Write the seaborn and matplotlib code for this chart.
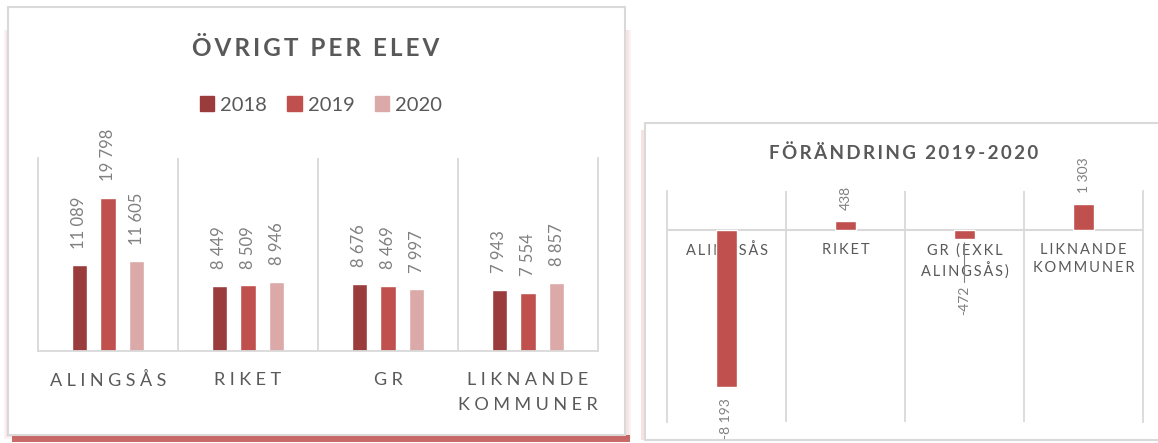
import pandas as pd
import numpy as np
import matplotlib
matplotlib.use("Agg")
import matplotlib.pyplot as plt
import matplotlib.patches as mpatches
import seaborn as sns

# data
omraden = ["ALINGSÅS", "RIKET", "GR", "LIKNANDE\nKOMMUNER"]
ar = ["2018", "2019", "2020"]
varden_2018 = [11089, 8449, 8676, 7943]
varden_2019 = [19798, 8509, 8469, 7554]
varden_2020 = [11605, 8946, 7997, 8857]

omraden_forandring = ["ALINGSÅS", "RIKET", "GR (EXKL\nALINGSÅS)", "LIKNANDE\nKOMMUNER"]
forandring = [-8193, 438, -472, 1303]

farger = ["#9B3C3C", "#C0504D", "#DBA9A8"]
GRID = "#D9D9D9"
TEXT = "#595959"
LABEL = "#808080"

sns.set_style("white")
plt.rcParams["font.family"] = ["Lato", "DejaVu Sans"]

W, H = 1158, 443
fig = plt.figure(figsize=(W / 100, H / 100), dpi=100)


def fx(x):
    return x / W


def fy(y):
    return 1 - y / H


def spaced(s, sp="\u2009"):
    # Excel-style letter spacing
    return "\n".join(sp.join(line) for line in s.split("\n"))


def tusen(v):
    return f"{v:,}".replace(",", " ")


def rect(x0, y0, x1, y1, **kw):
    fig.patches.append(mpatches.Rectangle(
        (fx(x0), fy(y1)), fx(x1 - x0), fy(y0) - fy(y1),
        transform=fig.transFigure, **kw))


# left panel with reddish shadow
for d, a in [(4, 0.10), (2, 0.14)]:
    rect(8 - d, 30, 625 + d + 2, 435 + d, color="#E08C8C", alpha=a, lw=0, zorder=-3)
rect(12, 435, 630, 442, color="#C0504D", alpha=0.85, lw=0, zorder=-2)
rect(8, 7, 625, 435, facecolor="white", edgecolor=GRID, lw=1.5, zorder=-1)
# right panel
rect(641, 130, 646, 440, color="#F2CFCF", alpha=0.6, lw=0, zorder=-2)
rect(645, 123, 1170, 440, facecolor="white", edgecolor=GRID, lw=1.5, zorder=-1)

# ===============================
# Left: Övrigt per elev
# ===============================
df = pd.DataFrame({
    "Område": omraden * 3,
    "År": [a for a in ar for _ in omraden],
    "Värde": varden_2018 + varden_2019 + varden_2020,
})

ax1 = fig.add_axes([fx(38), fy(351), fx(598 - 38), fy(158) - fy(351)])
ax1.set_facecolor("none")
sns.barplot(data=df, x="Område", y="Värde", hue="År", palette=farger, saturation=1,
            width=0.62, gap=0.48, ax=ax1, legend=False, zorder=2)
ax1.set_ylim(0, 25000)
ax1.set_xlim(-0.5, 3.5)
ax1.set_yticks([])
ax1.set_xlabel("")
ax1.set_ylabel("")
ax1.set_xticks(range(len(omraden)))
ax1.set_xticklabels([spaced(o, "\u2009\u2009") for o in omraden], fontsize=13,
                    color=TEXT, linespacing=1.7)
ax1.tick_params(axis="x", length=0, pad=15)
ax1.set_xticks([0.5, 1.5, 2.5], minor=True)
ax1.tick_params(axis="x", which="minor", length=0)
ax1.grid(which="minor", axis="x", color=GRID, lw=1.3)
for s in ["left", "right", "bottom"]:
    ax1.spines[s].set_color(GRID)
    ax1.spines[s].set_linewidth(1.3)
ax1.spines["top"].set_visible(False)

for cont, vals in zip(ax1.containers, [varden_2018, varden_2019, varden_2020]):
    ax1.bar_label(cont, labels=[tusen(v) for v in vals], rotation=90, padding=12,
                  fontsize=12, color=LABEL)

fig.text(fx(316), fy(48), spaced("ÖVRIGT PER ELEV"), ha="center", va="center",
         fontsize=17.5, fontweight="bold", color=TEXT)

handles = [mpatches.Patch(color=c, label=a) for c, a in zip(farger, ar)]
fig.legend(handles=handles, loc="center", bbox_to_anchor=(fx(321), fy(105)), ncol=3,
           frameon=False, fontsize=14.5, handlelength=0.7, handleheight=0.7,
           handletextpad=0.3, columnspacing=1.0, labelcolor=TEXT)

# ===============================
# Right: Förändring 2019-2020
# ===============================
ax2 = fig.add_axes([fx(667), fy(422), fx(1143 - 667), fy(191) - fy(422)])
ax2.set_facecolor("none")
sns.barplot(x=omraden_forandring, y=forandring, color="#C0504D", saturation=1,
            width=0.18, ax=ax2, zorder=3)
ax2.set_ylim(-10000, 2000)
ax2.set_xlim(-0.5, 3.5)
ax2.set_yticks([])
ax2.set_xticks([0.5, 1.5, 2.5], minor=True)
ax2.set_xticks([])
ax2.grid(which="minor", axis="x", color=GRID, lw=1.3)
ax2.axhline(0, color=GRID, lw=1.5, zorder=1)
for s in ["left", "right"]:
    ax2.spines[s].set_color(GRID)
    ax2.spines[s].set_linewidth(1.3)
for s in ["top", "bottom"]:
    ax2.spines[s].set_visible(False)

for i, namn in enumerate(omraden_forandring):
    ax2.annotate(spaced(namn), xy=(i, 0), xytext=(0, -10), textcoords="offset points",
                 ha="center", va="top", fontsize=10.5, color=TEXT, linespacing=1.35, zorder=2)

etiketter = [tusen(v) for v in forandring]
etiketter[2] = ""
ax2.bar_label(ax2.containers[0], labels=etiketter, rotation=90, padding=8,
              fontsize=10, color=LABEL)
# the -472 label sits further down with a leader line
ax2.annotate(tusen(forandring[2]), xy=(2, forandring[2]), xytext=(0, -34),
             textcoords="offset points", rotation=90, ha="center", va="top",
             fontsize=10, color=LABEL, zorder=4,
             arrowprops=dict(arrowstyle="-", color=LABEL, lw=0.8, shrinkA=0, shrinkB=3))

fig.text(fx(904), fy(153), spaced("FÖRÄNDRING 2019-2020"), ha="center", va="center",
         fontsize=13.5, fontweight="bold", color=TEXT)

fig.savefig("out.png", dpi=100)
